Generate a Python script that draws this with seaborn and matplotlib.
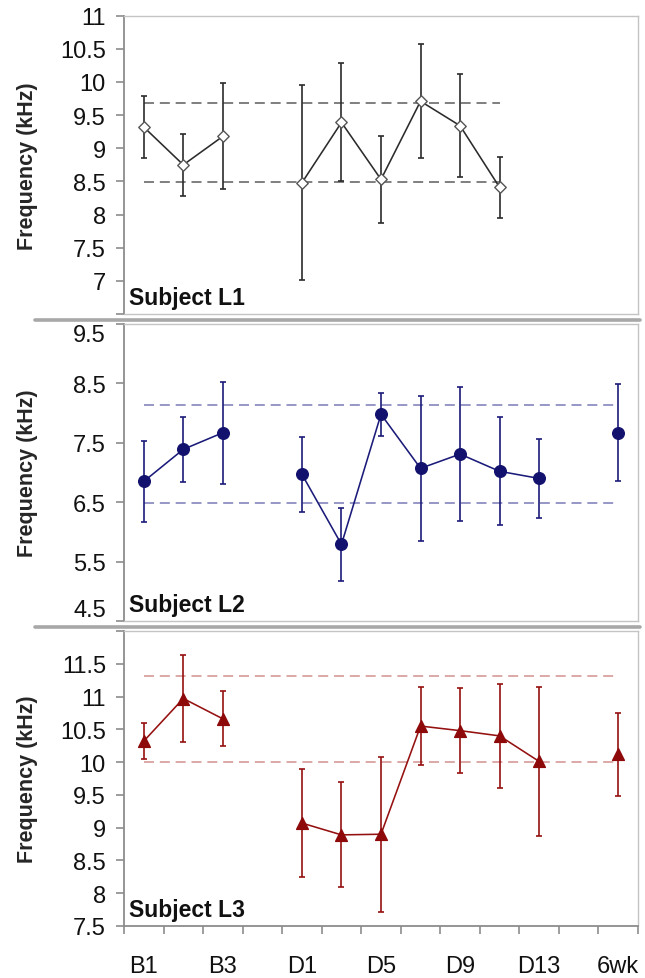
import numpy as np
import pandas as pd
import matplotlib
matplotlib.use("Agg")
import matplotlib.pyplot as plt
import seaborn as sns
from matplotlib.lines import Line2D

# Session categories along the x axis (blank slots separate the phases)
categories = ["B1", "B2", "B3", "", "D1", "D3", "D5", "D7", "D9", "D11", "D13", "", "6wk"]
label_every = 2

nan = np.nan
# Subject L1
l1_mean = [9.32, 8.75, 9.18, nan, 8.48, 9.39, 8.53, 9.71, 9.34, 8.41, nan, nan, nan]
l1_err = [0.47, 0.47, 0.80, nan, 1.47, 0.89, 0.66, 0.86, 0.78, 0.46, nan, nan, nan]
l1_band = [8.49, 9.68]

# Subject L2
l2_mean = [6.85, 7.39, 7.67, nan, 6.97, 5.79, 7.98, 7.07, 7.31, 7.02, 6.90, nan, 7.67]
l2_err = [0.68, 0.55, 0.86, nan, 0.63, 0.62, 0.36, 1.22, 1.13, 0.91, 0.66, nan, 0.82]
l2_band = [6.48, 8.13]

# Subject L3
l3_mean = [10.32, 10.97, 10.66, nan, 9.07, 8.89, 8.90, 10.55, 10.48, 10.40, 10.01, nan, 10.12]
l3_err = [0.27, 0.66, 0.42, nan, 0.83, 0.80, 1.18, 0.60, 0.65, 0.79, 1.14, nan, 0.63]
l3_band = [10.00, 11.32]

y_ranges = [(6.5, 11.0, 0.5), (4.5, 9.5, 1.0), (7.5, 12.0, 0.5)]
titles = ["Subject L1", "Subject L2", "Subject L3"]

sns.set_style("white")
plt.rcParams["font.family"] = ["Liberation Sans", "DejaVu Sans"]

fig = plt.figure(figsize=(6.45, 9.79), dpi=100)
W, H = 645.0, 979.0
left, right = 124.0, 638.0
panel_px = [(16.7, 315.0), (325.0, 622.0), (632.0, 927.0)]

panels = [
    dict(mean=l1_mean, err=l1_err, band=l1_band, line="#2b2b2b", face="white",
         edge="#555555", marker="D", s=34, dash="#6a6a6a", hide_top=False, hide_bottom=True),
    dict(mean=l2_mean, err=l2_err, band=l2_band, line="#1b1b7a", face="#12126e",
         edge="#12126e", marker="o", s=70, dash="#8585bd", hide_top=False, hide_bottom=False),
    dict(mean=l3_mean, err=l3_err, band=l3_band, line="#951010", face="#8e0a0a",
         edge="#8e0a0a", marker="^", s=72, dash="#d79a9a", hide_top=True, hide_bottom=False),
]

axes = []
for i, (p, (top, bot)) in enumerate(zip(panels, panel_px)):
    ax = fig.add_axes([left / W, 1 - bot / H, (right - left) / W, (bot - top) / H])
    axes.append(ax)

    df = pd.DataFrame({"pos": np.arange(len(categories)), "mean": p["mean"], "err": p["err"]})
    df["seg"] = df["mean"].isna().cumsum()
    df = df.dropna()

    # dashed reference band spanning the plotted sessions
    ax.hlines(p["band"], df["pos"].min(), df["pos"].max(), colors=p["dash"],
              linestyles=(0, (6, 3.5)), linewidth=1.2, zorder=1)

    ax.errorbar(df["pos"], df["mean"], yerr=df["err"], fmt="none", ecolor=p["line"],
                elinewidth=1.2, capsize=2.5, capthick=1.2, zorder=2)
    sns.lineplot(data=df, x="pos", y="mean", units="seg", estimator=None,
                 color=p["line"], linewidth=1.15, ax=ax, legend=False, zorder=3)
    sns.scatterplot(data=df, x="pos", y="mean", marker=p["marker"], s=p["s"],
                    color=p["face"], edgecolor=p["edge"], linewidth=1.0,
                    ax=ax, legend=False, zorder=4)

    lo, hi, step = y_ranges[i]
    ticks = np.arange(lo, hi + step / 2, step)
    labels = [f"{t:g}" for t in ticks]
    if i == 0:
        labels[0] = ""
    if p["hide_top"]:
        labels[-1] = ""
    ax.set_ylim(lo, hi)
    ax.set_yticks(ticks)
    ax.set_yticklabels(labels, fontsize=17)
    if i == 1:
        # edge labels sit inside the panel's extent
        ylabs = ax.get_yticklabels()
        ylabs[0].set_va("bottom")
        ylabs[-1].set_va("top")
    ax.set_xlim(-0.5, len(categories) - 0.5)
    ax.set_ylabel("Frequency (kHz)", fontsize=15.5, fontweight="bold")
    ax.yaxis.set_label_coords(-0.168, 0.5)
    ax.set_xlabel("")

    ax.tick_params(axis="y", direction="out", length=6, width=1.2, color="#8c8c8c",
                   pad=7, left=True, labelcolor="#111111")

    if i < 2:
        ax.set_xticks([])
    else:
        pos_labels = list(range(0, len(categories), label_every))
        ax.set_xticks(pos_labels)
        ax.set_xticklabels([categories[k] for k in pos_labels], fontsize=17)
        ax.set_xticks(np.arange(-0.5, len(categories), 1.0), minor=True)
        ax.tick_params(axis="x", which="major", length=0, pad=21, labelcolor="#111111")
        ax.tick_params(axis="x", which="minor", direction="out", length=6, width=1.2,
                       color="#8c8c8c", bottom=True)

    for name, sp in ax.spines.items():
        sp.set_visible(True)
        sp.set_color("#c4c4c4")
        sp.set_linewidth(1.0)
    ax.spines["left"].set_color("#8c8c8c")
    ax.spines["left"].set_linewidth(1.3)
    if i == 2:
        ax.spines["bottom"].set_color("#8c8c8c")
        ax.spines["bottom"].set_linewidth(1.3)

    ax.annotate(titles[i], xy=(0, 0), xycoords="axes fraction", xytext=(5, 10),
                textcoords="offset pixels", fontsize=16.5, fontweight="bold",
                ha="left", va="baseline", color="#111111")

# separators between the stacked panels
for ysep in (320.5, 627.5):
    fig.add_artist(Line2D([35 / W, 640 / W], [1 - ysep / H] * 2, color="#a8a8a8",
                          linewidth=2.6, transform=fig.transFigure))

fig.savefig("out.png", dpi=100, facecolor="white")
